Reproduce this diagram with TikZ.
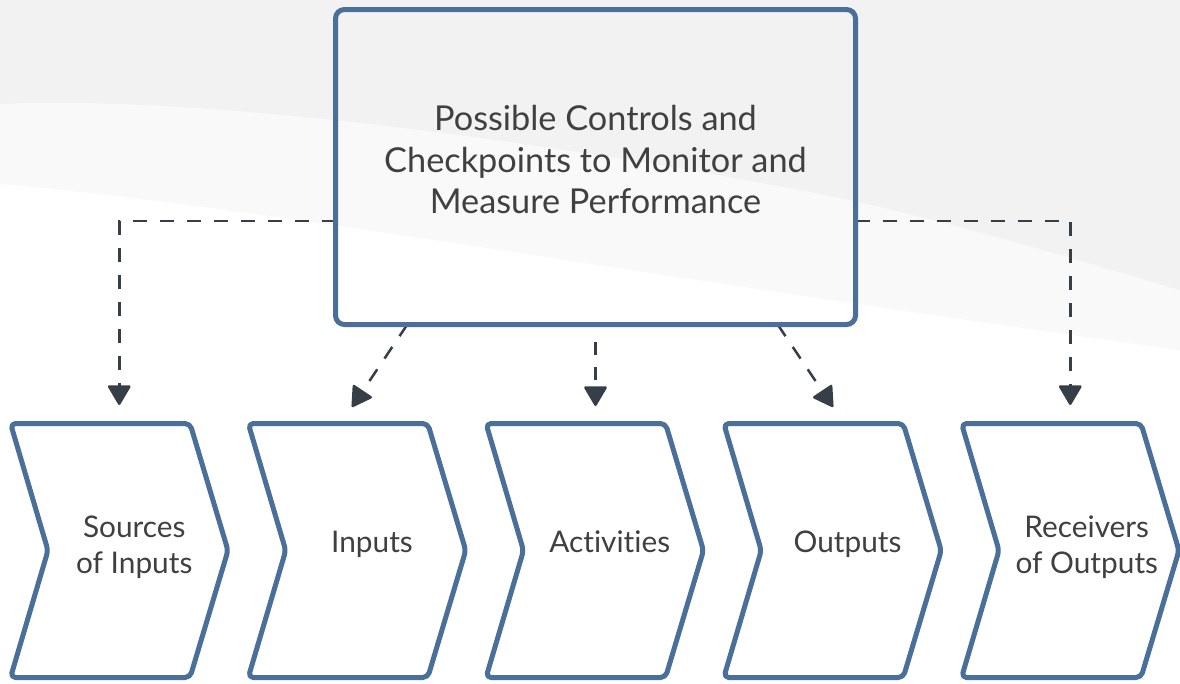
\documentclass[tikz,border=0pt]{standalone}
\usepackage{fontspec}
\setmainfont{Lato}[Ligatures={NoCommon,NoRequired,NoContextual}]
\usetikzlibrary{arrows.meta,calc}
\definecolor{bord}{RGB}{74,111,152}
\definecolor{txt}{RGB}{64,64,64}
\definecolor{arr}{RGB}{54,62,71}
\definecolor{bgA}{RGB}{242,242,242}
\definecolor{bgB}{RGB}{249,249,249}
\begin{document}
\begin{tikzpicture}[x=1pt,y=-1pt,
  chev/.style={draw=bord,line width=5pt,rounded corners=5pt,line join=round},
  chevtext/.style={font=\fontsize{29.8}{36}\selectfont,text=txt,align=center,inner sep=0pt},
  toptext/.style={font=\fontsize{34.3}{41.5}\selectfont,text=txt,align=center,inner sep=0pt},
  slot/.style={minimum width=217.5pt,minimum height=254pt,inner sep=0pt,outer sep=0pt},
  ctrlbox/.style={draw=bord,line width=5pt,rounded corners=9pt,minimum width=520pt,minimum height=315pt,inner sep=0pt,outer sep=0pt},
  conn/.style={draw=arr,line width=2.5pt,dash pattern=on 14pt off 13pt,-{Triangle[length=21pt,width=24pt,round]}},
]
% background
\fill[white] (0,0) rectangle (1180,683);
\fill[bgB] (0,0) -- (0,184) .. controls (250,205) and (600,270) .. (1180,350) -- (1180,0) -- cycle;
\fill[bgA] (0,0) -- (0,104) .. controls (180,96) and (480,130) .. (800,190) .. controls (930,215) and (1060,255) .. (1180,290) -- (1180,0) -- cycle;
\useasboundingbox (0,0) rectangle (1180,683);

% chevrons
\foreach \i/\x in {1/119.25,2/357,3/594.75,4/832.5,5/1070.25} {
  \node[slot] (c\i) at (\x,550.5) {};
  \draw[chev] (c\i.north west) -- ($(c\i.north east)+(-38,0)$) -- (c\i.east)
     -- ($(c\i.south east)+(-38,0)$) -- (c\i.south west) -- ($(c\i.west)+(37.5,0)$) -- cycle;
}
\node[chevtext] (t1) at ($(c1.center)+(15,-3)$) {Sources\\of Inputs};
\node[chevtext] (t2) at ($(c2.center)+(15,-6)$) {Inputs};
\node[chevtext] (t3) at ($(c3.center)+(15,-9)$) {Activities};
\node[chevtext] (t4) at ($(c4.center)+(15,-6)$) {Outputs};
\node[chevtext] (t5) at ($(c5.center)+(16.5,-3)$) {Receivers\\of Outputs};

% control box position
\node[slot,minimum width=520pt,minimum height=315pt] (top) at (595.5,167) {};

% connectors
\draw[conn,shorten >=18.5pt] ([yshift=-54pt]top.west) -| (c1.north);
\draw[conn,shorten >=18.5pt] ([yshift=-54pt]top.east) -| (c5.north);
\draw[conn,dash pattern=on 13pt off 12pt,dash phase=13pt,shorten <=5pt,shorten >=17.5pt] (top.south) -- (top.south |- c3.north);
\coordinate (s2) at ([xshift=-188.2pt]top.south);
\coordinate (e2) at ($(c2.north)+(-5,-16.5)$);
\coordinate (s4) at ([xshift=182.2pt]top.south);
\coordinate (e4) at ($(c4.north)+(0.5,-16.5)$);
\draw[conn] (s2) -- (e2);
\draw[conn] (s4) -- (e4);

% control box
\node[ctrlbox] (topbox) at (top.center) {};
\node[toptext] (label) at ($(top.center)+(0,-7)$) {Possible Controls and\\Checkpoints to Monitor and\\Measure Performance};
\end{tikzpicture}
\end{document}
